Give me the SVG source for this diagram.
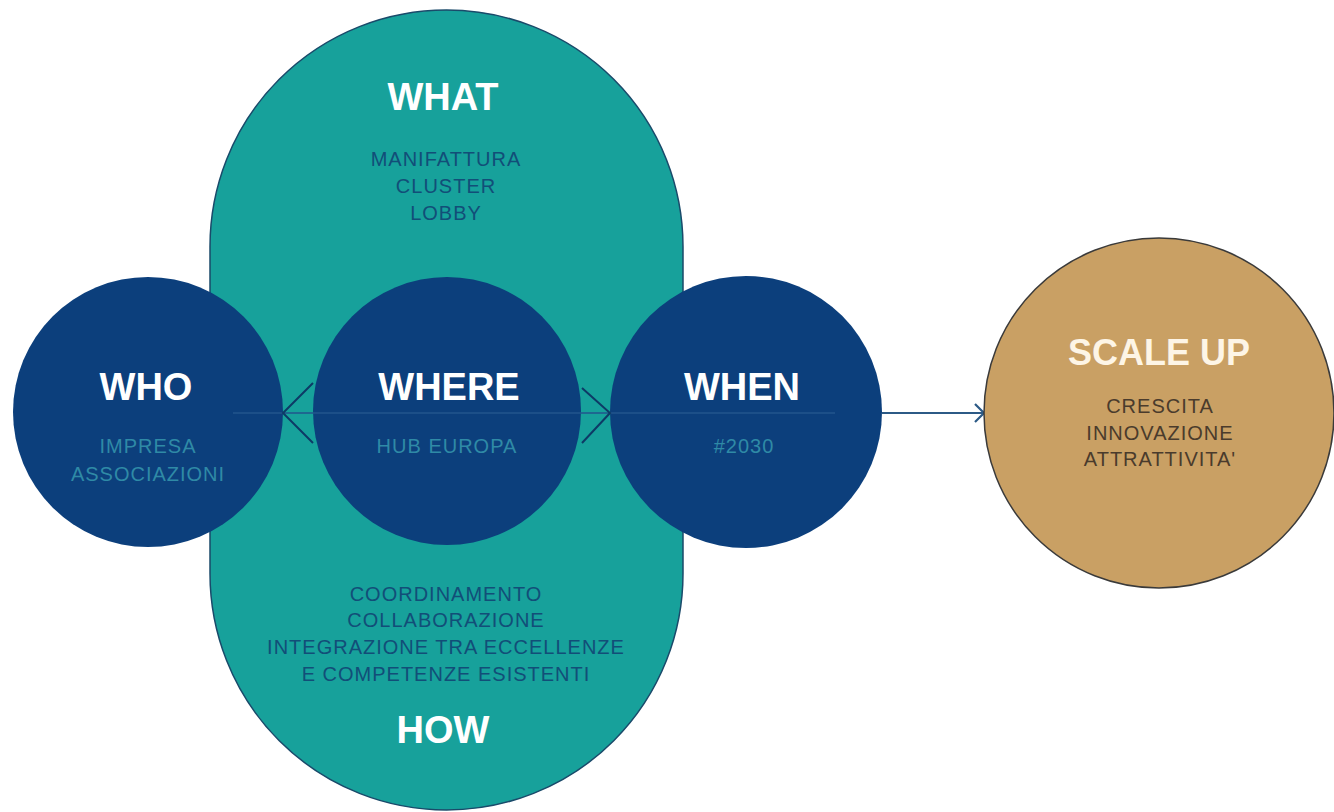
<svg xmlns="http://www.w3.org/2000/svg" width="1334" height="812" viewBox="0 0 1334 812">
<style>
.title{font-family:"Liberation Sans",Arial,sans-serif;font-weight:bold;font-size:38px;text-anchor:middle;fill:#ffffff}
.sub{font-family:"Liberation Sans",Arial,sans-serif;font-size:20px;letter-spacing:1px;text-anchor:middle}
.dark{fill:#124e78}
.light{fill:#2f8aa6}
.brown{fill:#4a3b2c}
.navy{fill:#0c3f7c}
.conn{stroke:#0d3a66;stroke-width:2;fill:none}
</style>
<defs>
<marker id="chev" markerWidth="14" markerHeight="20" refX="11" refY="10" orient="auto" markerUnits="userSpaceOnUse">
<path d="M2,1 L11,10 L2,19" fill="none" stroke="#2c5a86" stroke-width="2.2"/>
</marker>
</defs>
<rect width="1334" height="812" fill="#ffffff"/>
<g id="what-how">
<rect x="210" y="10" width="473" height="800" rx="236.5" ry="236.5" fill="#17a19b" stroke="#1a4a6a" stroke-width="1.5"/>
<text class="title" x="443" y="110">WHAT</text>
<text class="sub dark" x="446" y="166">MANIFATTURA</text>
<text class="sub dark" x="446" y="193">CLUSTER</text>
<text class="sub dark" x="446" y="220">LOBBY</text>
<text class="sub dark" x="446" y="601">COORDINAMENTO</text>
<text class="sub dark" x="446" y="627">COLLABORAZIONE</text>
<text class="sub dark" x="446" y="654">INTEGRAZIONE TRA ECCELLENZE</text>
<text class="sub dark" x="446" y="681">E COMPETENZE ESISTENTI</text>
<text class="title" x="443" y="743">HOW</text>
</g>
<g id="who">
<circle class="navy" cx="148" cy="412" r="135"/>
</g>
<g id="where">
<circle class="navy" cx="447" cy="411" r="134"/>
</g>
<g id="when">
<circle class="navy" cx="746" cy="412" r="136"/>
</g>
<g id="connectors">
<line x1="233" y1="413" x2="835" y2="413" stroke="#22568c" stroke-width="1.5"/>
<polyline class="conn" points="313,383 283,413 313,443"/>
<polyline class="conn" points="582,388 610,413 582,443"/>
<line x1="882" y1="413" x2="984" y2="413" stroke="#2c5a86" stroke-width="2.2" marker-end="url(#chev)"/>
</g>
<g id="labels">
<text class="title" x="146" y="400">WHO</text>
<text class="sub light" x="148" y="453">IMPRESA</text>
<text class="sub light" x="148" y="481">ASSOCIAZIONI</text>
<text class="title" x="449" y="400">WHERE</text>
<text class="sub light" x="447" y="453">HUB EUROPA</text>
<text class="title" x="742" y="400">WHEN</text>
<text class="sub light" x="744" y="453">#2030</text>
</g>
<g id="scale-up">
<circle cx="1159" cy="413" r="175" fill="#c9a064" stroke="#3a3a3a" stroke-width="1.5"/>
<text class="title" x="1159" y="365" style="fill:#fdf5e6;font-size:36px">SCALE UP</text>
<text class="sub brown" x="1160" y="413">CRESCITA</text>
<text class="sub brown" x="1160" y="440">INNOVAZIONE</text>
<text class="sub brown" x="1160" y="466">ATTRATTIVITA'</text>
</g>
</svg>
